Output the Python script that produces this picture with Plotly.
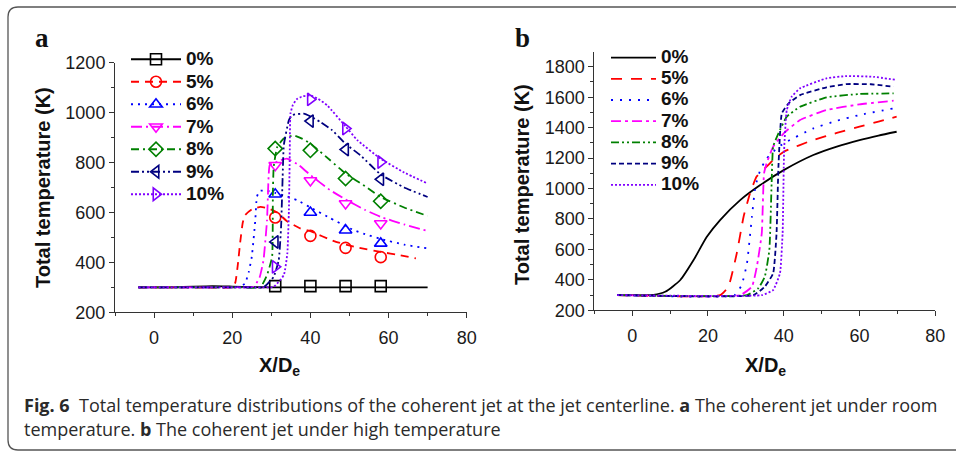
import plotly.graph_objects as go

# ---------------- data: panel a (room temperature) ----------------
labels = ["0%", "5%", "6%", "7%", "8%", "9%", "10%"]

a_x0 = [-4, 5, 10, 15, 20, 25, 30, 40, 50, 60, 70]
a_y0 = [300, 300, 303, 305, 303, 301, 300, 300, 300, 300, 300]
a_x5 = [-4, 10, 20, 20.8, 21.5, 22, 22.7, 23.3, 25, 27.2, 29, 31.5, 34, 37.4, 40, 46, 52, 58, 63, 67]
a_y5 = [300, 300, 301, 320, 400, 476, 560, 589, 612, 622, 618, 600, 565, 536, 525, 485, 460, 442, 428, 416]
a_x6 = [-4, 15, 22, 23.3, 24.2, 25, 25.9, 26.3, 27, 28.5, 31, 34, 36.6, 40, 45, 49, 51, 54, 58, 64, 70]
a_y6 = [300, 300, 302, 316, 360, 422, 569, 662, 686, 688, 678, 664, 649, 620, 578, 545, 530, 513, 494, 471, 456]
a_x7 = [-4, 20, 25.5, 27, 28, 28.9, 29.3, 29.6, 31, 32.3, 34, 37, 40, 45, 49, 54, 58, 64, 70]
a_y7 = [300, 300, 302, 340, 409, 569, 742, 790, 800, 809, 816, 790, 750, 690, 652, 610, 582, 552, 526]
a_x8 = [-4, 22, 27.2, 28.9, 30.2, 30.4, 30.6, 31.5, 33.2, 35.7, 38, 40, 45, 49, 54, 58, 64, 70]
a_y8 = [300, 300, 300, 349, 422, 676, 782, 862, 896, 909, 895, 876, 810, 756, 705, 662, 620, 586]
a_x9 = [-4, 24, 28, 30.6, 31.9, 32.5, 32.9, 33.2, 34.5, 35.3, 38.3, 40, 42.6, 45.6, 49, 52.8, 58, 64, 70]
a_y9 = [300, 300, 300, 342, 409, 542, 742, 870, 970, 990, 996, 985, 962, 929, 875, 829, 752, 700, 662]
a_x10 = [-4, 26, 30.6, 33.2, 34.1, 34.5, 34.7, 34.9, 35.5, 36.6, 38, 40, 42, 44.3, 49, 52, 58, 64, 70]
a_y10 = [300, 300, 302, 349, 436, 609, 809, 996, 1030, 1055, 1065, 1069, 1055, 1029, 945, 890, 815, 760, 716]

# measured points (markers) in panel a
a_mx = [31, 40, 49, 58]
a_m0 = [305, 305, 305, 305]
a_m5 = [580, 506, 458, 421]
a_m6 = [673, 600, 529, 476]
a_m7 = [789, 728, 636, 556]
a_m8 = [856, 849, 736, 645]
a_m9 = [482, 966, 852, 733]
a_m10 = [382, 1053, 936, 802]

# ---------------- data: panel b (high temperature) ----------------
b_x0 = [-4, 5.6, 8.7, 12.7, 16.2, 19.7, 23.2, 28.5, 33.8, 40, 47.8, 54, 60, 65, 69.8]
b_y0 = [300, 302, 322, 399, 530, 683, 793, 924, 1023, 1121, 1220, 1275, 1318, 1348, 1373]
b_x5 = [-4, 23.2, 25.4, 27.6, 29.4, 31.1, 32.8, 35, 37.2, 40, 47.8, 54, 60, 65, 69.8]
b_y5 = [300, 300, 355, 574, 815, 968, 1077, 1133, 1187, 1242, 1319, 1365, 1406, 1440, 1472]
b_x6 = [-4, 27, 28.9, 30.3, 31.6, 32.5, 33.8, 35.5, 38.2, 40, 47.8, 54, 60, 69]
b_y6 = [300, 300, 366, 509, 815, 1012, 1121, 1198, 1264, 1297, 1395, 1445, 1483, 1527]
b_x7 = [-4, 28.5, 31.6, 32.9, 34.2, 34.8, 35.5, 37.2, 40, 44.3, 51.3, 60, 69]
b_y7 = [300, 300, 355, 486, 706, 1100, 1166, 1275, 1363, 1450, 1516, 1553, 1577]
b_x8 = [-4, 30.3, 33.3, 35, 36.2, 36.8, 37.2, 38.6, 40.8, 44.3, 51.3, 60, 69]
b_y8 = [300, 300, 345, 421, 596, 1034, 1275, 1363, 1472, 1537, 1599, 1621, 1625]
b_x9 = [-4, 32, 35, 37.2, 38.1, 38.6, 39.5, 41.3, 44.3, 51.3, 56.6, 63, 69]
b_y9 = [300, 300, 355, 443, 706, 1143, 1494, 1560, 1614, 1665, 1686, 1685, 1669]
b_x10 = [-4, 34.2, 37.2, 39, 39.7, 40.1, 40.8, 42.1, 44.3, 51.3, 56.6, 63.7, 69.8]
b_y10 = [300, 300, 333, 443, 706, 1253, 1516, 1603, 1658, 1724, 1739, 1734, 1713]

x_ticks = [0, 20, 40, 60, 80]
a_y_ticks = [200, 400, 600, 800, 1000, 1200]
b_y_ticks = [200, 400, 600, 800, 1000, 1200, 1400, 1600, 1800]

caption_1 = "<b>Fig. 6</b>  Total temperature distributions of the coherent jet at the jet centerline. <b>a</b> The coherent jet under room"
caption_2 = "temperature. <b>b</b> The coherent jet under high temperature"

# ---------------- styles ----------------
colors = ["#000000", "#ff0000", "#0000ff", "#ff00ff", "#008000", "#000080", "#8000ff"]
a_dash = ["solid", "8px,6px", "2px,5px", "11px,4px,2px,4px", "8px,4px,2px,4px", "8px,3px,2px,3px,2px,3px", "2px,2px"]
b_dash = ["solid", "11px,9px", "2px,7px", "10px,4px,3px,4px", "8px,3px,2px,3px,2px,3px", "5px,3px", "2px,2px"]
symbols = ["square-open", "circle-open", "triangle-up-open", "triangle-down-open",
           "diamond-open", "triangle-left-open", "triangle-right-open"]

a_lines = [(a_x0, a_y0), (a_x5, a_y5), (a_x6, a_y6), (a_x7, a_y7), (a_x8, a_y8), (a_x9, a_y9), (a_x10, a_y10)]
a_marks = [a_m0, a_m5, a_m6, a_m7, a_m8, a_m9, a_m10]
b_lines = [(b_x0, b_y0), (b_x5, b_y5), (b_x6, b_y6), (b_x7, b_y7), (b_x8, b_y8), (b_x9, b_y9), (b_x10, b_y10)]

FONT = "Liberation Sans, Arial, sans-serif"

def leg_name(t):
    return '<span style="font-size:19px">' + t + '</span>'

fig = go.Figure()

for i, lab in enumerate(labels):
    lx, ly = a_lines[i]
    fig.add_trace(go.Scatter(x=lx, y=ly, mode="lines", xaxis="x", yaxis="y",
                             line=dict(color=colors[i], width=1.8, dash=a_dash[i],
                                       shape="spline", smoothing=0.4),
                             showlegend=False, hoverinfo="skip"))
    fig.add_trace(go.Scatter(x=a_mx, y=a_marks[i], mode="markers", xaxis="x", yaxis="y",
                             marker=dict(symbol=symbols[i], size=11, color=colors[i],
                                         line=dict(width=1.6, color=colors[i])),
                             showlegend=False, hoverinfo="skip"))
    # legend entry (line + marker)
    fig.add_trace(go.Scatter(x=[None], y=[None], mode="lines+markers", xaxis="x", yaxis="y",
                             line=dict(color=colors[i], width=1.8, dash=a_dash[i]),
                             marker=dict(symbol=symbols[i], size=11, color=colors[i],
                                         line=dict(width=1.6, color=colors[i])),
                             name=leg_name(lab), legend="legend", showlegend=True))

for i, lab in enumerate(labels):
    lx, ly = b_lines[i]
    fig.add_trace(go.Scatter(x=lx, y=ly, mode="lines", xaxis="x2", yaxis="y2",
                             line=dict(color=colors[i], width=1.8, dash=b_dash[i],
                                       shape="spline", smoothing=0.6 if i == 0 else 0.4),
                             name=leg_name(lab), legend="legend2", showlegend=True,
                             hoverinfo="skip"))

W, H = 956, 452
def px(v):
    return v / W
def py(v):
    return 1 - v / H

axis_common = dict(showgrid=False, zeroline=False, showline=True, linecolor="#333",
                   linewidth=1, ticks="outside", ticklen=5, tickwidth=1, tickcolor="#333",
                   automargin=False,
                   tickfont=dict(family=FONT, size=18, color="#1a1a1a"))

def minor(tick0):
    return dict(dtick=10 if tick0 == 0 else 100, tick0=tick0, ticks="outside",
                ticklen=3, tickwidth=1, tickcolor="#333")

fig.update_layout(
    width=W, height=H, autosize=False,
    margin=dict(l=0, r=0, t=0, b=0, pad=0, autoexpand=False),
    paper_bgcolor="white", plot_bgcolor="white",
    xaxis=dict(domain=[px(115), px(466.7)], range=[-10, 80], tickvals=x_ticks,
               minor=minor(0), anchor="y", ticklabelstandoff=4, **axis_common),
    yaxis=dict(domain=[1 - 312.3 / H, 1 - 62.7 / H], range=[200, 1200], tickvals=a_y_ticks,
               minor=minor(200), anchor="x", **axis_common),
    xaxis2=dict(domain=[px(594.3), px(935.3)], range=[-10, 80], tickvals=x_ticks,
                minor=minor(0), anchor="y2", ticklabelstandoff=4, **axis_common),
    yaxis2=dict(domain=[1 - 310.3 / H, 1 - 52.3 / H], range=[200, 1895], tickvals=b_y_ticks,
                minor=minor(200), anchor="x2", **axis_common),
    legend=dict(x=px(126), y=py(43), xanchor="left", yanchor="top",
                bgcolor="rgba(0,0,0,0)", borderwidth=0, itemwidth=50,
                font=dict(family=FONT, size=15, color="#111", weight="bold"),
                tracegroupgap=0),
    legend2=dict(x=px(606), y=py(42), xanchor="left", yanchor="top",
                 bgcolor="rgba(0,0,0,0)", borderwidth=0, itemwidth=45,
                 font=dict(family=FONT, size=14, color="#111", weight="bold"),
                 tracegroupgap=0),
    showlegend=True,
)

ann = []
title_font = dict(family=FONT, size=20, color="#111", weight="bold")
def add_ann(x, y, text, font, angle=0, xa="center", ya="middle"):
    ann.append(dict(x=px(x), y=py(y), xref="paper", yref="paper", text=text,
                    textangle=angle, showarrow=False, font=font,
                    xanchor=xa, yanchor=ya))

add_ann(43, 188, "Total temperature (K)", title_font, angle=-90)
add_ann(522, 185, "Total temperature (K)", title_font, angle=-90)
add_ann(279, 366, "X/D<sub>e</sub>", title_font)
add_ann(765, 366, "X/D<sub>e</sub>", title_font)
panel_font = dict(family="Liberation Serif, Times New Roman, serif", size=27, color="#111", weight="bold")
add_ann(41.5, 38, "a", panel_font)
add_ann(522.5, 38, "b", panel_font)
cap_font = dict(family="Open Sans, Noto Sans, sans-serif", size=18, color="#2a2a2a")
add_ann(22, 405, caption_1, cap_font, xa="left")
add_ann(22, 429, caption_2, cap_font, xa="left")
fig.update_layout(annotations=ann)

# outer rounded frame
x0, y0t, y0b, r = px(8), py(7), py(450), 10
frame = (f"M 1.01,{y0t} L {px(8 + r)},{y0t} Q {x0},{y0t} {x0},{py(7 + r)} "
         f"L {x0},{py(450 - r)} Q {x0},{y0b} {px(8 + r)},{y0b} L 1.01,{y0b}")
fig.add_shape(type="path", path=frame, xref="paper", yref="paper",
              line=dict(color="#555", width=1.3))

fig.write_html("out.html", config={"displayModeBar": False},
               post_script="document.body.style.margin='0';document.body.style.padding='0';")
